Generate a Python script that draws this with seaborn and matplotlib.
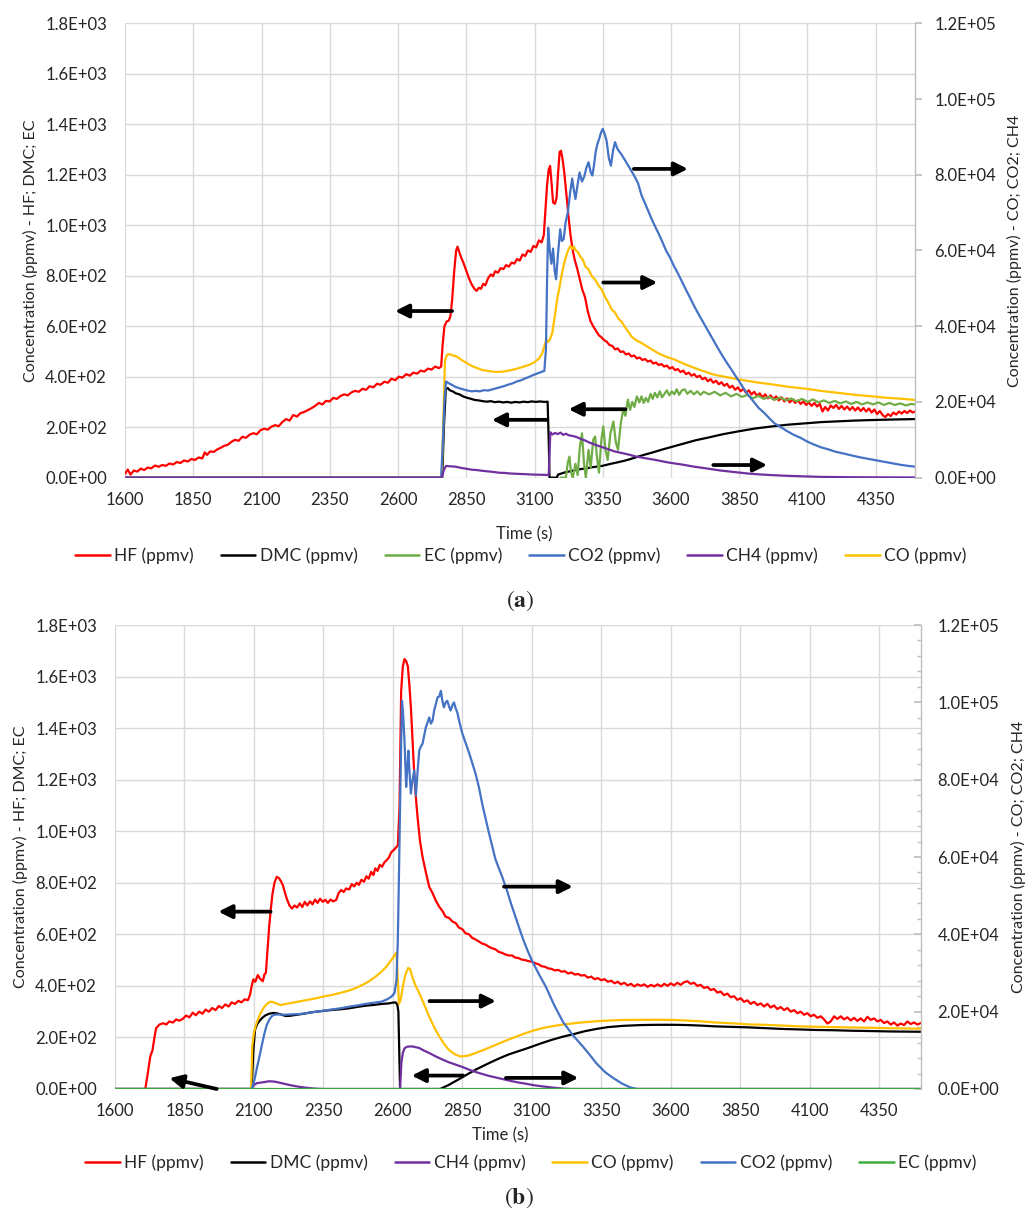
import matplotlib
matplotlib.use("Agg")
import matplotlib.pyplot as plt
import pandas as pd
import seaborn as sns
from matplotlib.ticker import FuncFormatter, FixedLocator
from matplotlib.lines import Line2D

# ---------------------------------------------------------------
# Gas concentrations (time s, ppmv) -- test (a)
# ---------------------------------------------------------------
hf_a = [(1600, 15), (1610, 32), (1620, 12), (1632, 28), (1645, 24), (1658, 36), (1670, 30), (1683, 40),
        (1696, 37), (1710, 48), (1723, 43), (1736, 50), (1750, 47), (1763, 56), (1776, 52), (1790, 62),
        (1803, 58), (1816, 68), (1830, 64), (1843, 74), (1856, 70), (1870, 80), (1883, 76), (1892, 100),
        (1900, 90), (1912, 104), (1925, 102), (1938, 112), (1950, 118), (1963, 126), (1976, 130), (1990, 142),
        (2003, 150), (2016, 146), (2030, 162), (2043, 158), (2056, 170), (2070, 176), (2083, 172), (2096, 188),
        (2110, 194), (2123, 190), (2136, 202), (2150, 208), (2163, 204), (2176, 220), (2190, 232), (2203, 226),
        (2216, 248), (2230, 242), (2243, 256), (2256, 260), (2270, 268), (2283, 275), (2296, 284), (2310, 296),
        (2323, 290), (2336, 304), (2350, 302), (2363, 316), (2376, 312), (2390, 324), (2403, 330), (2416, 326),
        (2430, 338), (2443, 344), (2456, 340), (2470, 352), (2483, 348), (2496, 362), (2510, 358), (2523, 372),
        (2536, 368), (2550, 380), (2563, 376), (2576, 392), (2590, 386), (2603, 400), (2616, 396), (2630, 410),
        (2643, 404), (2656, 416), (2670, 412), (2683, 424), (2696, 420), (2710, 432), (2723, 428), (2736, 440),
        (2750, 434), (2758, 440), (2763, 520), (2770, 600), (2778, 618), (2786, 622), (2792, 640), (2798, 700),
        (2806, 820), (2813, 900), (2818, 915), (2824, 895), (2832, 870), (2840, 850), (2850, 820), (2860, 790),
        (2870, 765), (2880, 748), (2888, 740), (2896, 752), (2904, 748), (2912, 768), (2920, 762), (2930, 790),
        (2940, 805), (2948, 798), (2956, 818), (2966, 812), (2976, 830), (2986, 826), (2996, 842), (3006, 836),
        (3016, 852), (3026, 848), (3036, 866), (3046, 860), (3056, 884), (3066, 878), (3076, 900), (3086, 894),
        (3096, 918), (3106, 912), (3116, 940), (3126, 932), (3134, 960), (3140, 1060), (3146, 1160), (3152, 1220),
        (3157, 1235), (3163, 1160), (3168, 1090), (3175, 1085), (3181, 1110), (3186, 1200), (3192, 1290),
        (3197, 1295), (3203, 1260), (3210, 1200), (3217, 1120), (3224, 1040), (3232, 960), (3240, 900),
        (3248, 860), (3256, 830), (3265, 790), (3275, 745), (3285, 715), (3295, 660), (3305, 620), (3315, 600),
        (3325, 582), (3335, 565), (3345, 556), (3355, 545), (3365, 538), (3375, 525), (3385, 522), (3395, 508),
        (3405, 512), (3415, 498), (3425, 500), (3435, 488), (3445, 492), (3455, 480), (3465, 484), (3475, 472),
        (3485, 476), (3495, 466), (3505, 470), (3515, 460), (3525, 464), (3535, 452), (3545, 456), (3555, 446),
        (3565, 450), (3575, 440), (3585, 444), (3595, 432), (3605, 438), (3615, 426), (3625, 430), (3635, 418),
        (3645, 424), (3655, 410), (3665, 416), (3675, 404), (3685, 410), (3695, 398), (3705, 404), (3715, 390),
        (3725, 396), (3735, 382), (3745, 390), (3755, 376), (3765, 384), (3775, 370), (3785, 378), (3795, 364),
        (3805, 372), (3815, 356), (3825, 364), (3835, 348), (3845, 358), (3855, 342), (3865, 352), (3875, 336),
        (3885, 346), (3895, 330), (3905, 340), (3915, 324), (3925, 334), (3935, 318), (3945, 330), (3955, 314),
        (3965, 326), (3975, 310), (3985, 322), (3995, 306), (4005, 318), (4015, 302), (4025, 314), (4035, 298),
        (4045, 310), (4055, 296), (4065, 306), (4075, 292), (4085, 302), (4095, 288), (4105, 298), (4115, 284),
        (4125, 296), (4135, 282), (4145, 292), (4155, 262), (4165, 280), (4175, 266), (4185, 286), (4195, 276),
        (4205, 288), (4215, 272), (4225, 284), (4235, 270), (4245, 282), (4255, 268), (4265, 280), (4275, 266),
        (4285, 278), (4295, 264), (4305, 276), (4315, 262), (4325, 274), (4335, 258), (4345, 270), (4355, 252),
        (4365, 264), (4375, 248), (4385, 240), (4395, 252), (4405, 244), (4415, 258), (4425, 250), (4435, 262),
        (4445, 254), (4455, 264), (4465, 256), (4475, 266), (4485, 258), (4495, 262)]

dmc_a = [(1600, 0), (2762, 0), (2768, 200), (2775, 350), (2782, 355), (2790, 346), (2800, 342), (2812, 334),
         (2825, 330), (2838, 322), (2851, 317), (2865, 313), (2880, 308), (2895, 306), (2910, 303), (2925, 301),
         (2940, 303), (2955, 299), (2970, 301), (2985, 298), (3000, 300), (3015, 297), (3030, 300), (3045, 298),
         (3060, 301), (3075, 299), (3090, 302), (3105, 300), (3120, 302), (3135, 300), (3148, 301), (3152, 150),
         (3155, 0), (3182, 0), (3186, 12), (3200, 17), (3215, 22), (3230, 25), (3250, 30), (3270, 34), (3290, 37),
         (3310, 41), (3330, 44), (3350, 47), (3380, 55), (3410, 62), (3440, 70), (3470, 80), (3500, 90), (3530, 99),
         (3570, 112), (3610, 124), (3650, 136), (3690, 148), (3733, 158), (3790, 172), (3850, 184), (3910, 195),
         (3970, 203), (4030, 210), (4090, 215), (4150, 220), (4210, 223), (4270, 226), (4330, 228), (4400, 230),
         (4495, 232)]

ec_a = [(3195, 0), (3215, 0), (3222, 60), (3228, 83), (3234, 20), (3240, 0), (3250, 55), (3258, 10), (3266, 120),
        (3274, 176), (3281, 60), (3288, 0), (3298, 110), (3306, 40), (3315, 150), (3322, 163), (3329, 80),
        (3336, 20), (3345, 150), (3352, 203), (3360, 110), (3368, 70), (3378, 175), (3389, 222), (3398, 140),
        (3406, 110), (3416, 215), (3425, 269), (3433, 245), (3442, 309), (3450, 268), (3458, 300), (3466, 280),
        (3475, 322), (3484, 298), (3492, 322), (3500, 296), (3508, 316), (3516, 300), (3525, 332), (3533, 312),
        (3541, 336), (3550, 318), (3559, 342), (3567, 318), (3576, 332), (3585, 346), (3594, 326), (3603, 342),
        (3612, 330), (3621, 350), (3630, 328), (3640, 346), (3650, 350), (3660, 332), (3672, 344), (3684, 330),
        (3696, 342), (3708, 328), (3720, 340), (3740, 330), (3760, 340), (3780, 326), (3800, 336), (3820, 322),
        (3840, 332), (3860, 320), (3880, 328), (3900, 314), (3920, 324), (3940, 312), (3960, 320), (3980, 308),
        (4000, 318), (4020, 306), (4040, 314), (4060, 302), (4080, 312), (4100, 300), (4120, 310), (4140, 298),
        (4160, 306), (4180, 296), (4200, 304), (4220, 294), (4240, 302), (4260, 292), (4280, 300), (4300, 290),
        (4320, 298), (4340, 290), (4360, 298), (4380, 288), (4400, 296), (4420, 288), (4440, 294), (4460, 286),
        (4480, 292), (4495, 290)]

co2_a = [(1600, 0), (2758, 0), (2764, 9000), (2770, 20000), (2776, 25400), (2784, 25000), (2795, 24600),
         (2810, 24000), (2825, 23600), (2840, 23300), (2855, 23000), (2870, 22800), (2885, 22900), (2900, 22800),
         (2915, 23100), (2930, 23000), (2945, 23300), (2960, 23600), (2975, 23900), (2990, 24200), (3005, 24600),
         (3020, 24900), (3035, 25400), (3050, 25700), (3065, 26200), (3080, 26600), (3095, 27100), (3110, 27500),
         (3125, 27900), (3136, 28200), (3142, 34000), (3146, 52000), (3150, 66000), (3156, 60000), (3162, 56500),
         (3168, 60500), (3174, 54500), (3179, 52400), (3186, 59000), (3194, 65600), (3200, 62500), (3207, 63000),
         (3214, 67500), (3222, 70000), (3230, 75000), (3238, 79000), (3244, 76000), (3250, 73600), (3257, 77000),
         (3265, 80600), (3274, 78200), (3282, 79500), (3290, 81800), (3298, 83300), (3306, 80600), (3312, 79800),
         (3318, 82500), (3324, 86000), (3330, 88000), (3337, 89500), (3344, 91200), (3350, 92100), (3357, 90800),
         (3364, 89000), (3372, 84500), (3380, 82400), (3388, 86500), (3395, 88600), (3404, 86800), (3412, 86000),
         (3420, 85200), (3430, 84000), (3443, 82400), (3455, 81000), (3467, 79500), (3479, 77800), (3492, 74600),
         (3505, 72400), (3518, 70200), (3531, 68000), (3544, 66000), (3557, 64100), (3570, 62000), (3583, 59800),
         (3596, 58200), (3610, 56000), (3625, 54000), (3640, 51800), (3655, 49600), (3670, 47500), (3685, 45300),
         (3700, 43300), (3715, 41400), (3730, 39500), (3745, 37600), (3760, 35700), (3775, 33800), (3790, 32000),
         (3805, 30300), (3820, 28700), (3835, 27000), (3850, 25400), (3865, 23700), (3880, 22100), (3900, 20300),
         (3920, 18500), (3940, 17200), (3960, 15700), (3980, 14300), (4000, 13400), (4025, 12300), (4050, 11300),
         (4075, 10500), (4100, 9500), (4125, 8700), (4150, 8000), (4175, 7500), (4200, 6900), (4230, 6400),
         (4260, 5900), (4290, 5400), (4320, 5000), (4350, 4600), (4380, 4200), (4410, 3800), (4440, 3400),
         (4470, 3100), (4495, 2900)]

ch4_a = [(1600, 0), (2760, 0), (2768, 2000), (2776, 3100), (2790, 3000), (2810, 2900), (2830, 2600), (2850, 2350),
         (2870, 2100), (2890, 2000), (2910, 1800), (2930, 1650), (2950, 1500), (2970, 1300), (2990, 1250),
         (3010, 1100), (3040, 1000), (3070, 900), (3100, 800), (3130, 750), (3148, 700), (3152, 700), (3155, 6000),
         (3158, 12000), (3165, 11400), (3175, 11800), (3185, 11500), (3195, 11900), (3205, 11300), (3215, 11600),
         (3225, 11200), (3240, 11000), (3255, 10700), (3270, 10200), (3286, 9800), (3300, 9300), (3322, 8700),
         (3346, 8100), (3370, 7500), (3395, 6900), (3420, 6500), (3445, 6100), (3470, 5600), (3500, 5200),
         (3542, 4700), (3590, 4000), (3637, 3500), (3685, 2900), (3733, 2400), (3780, 1900), (3829, 1500),
         (3880, 1100), (3925, 850), (3975, 650), (4020, 500), (4080, 350), (4152, 200), (4250, 120), (4350, 80),
         (4495, 50)]

co_a = [(1600, 0), (2760, 0), (2766, 15000), (2772, 31000), (2780, 32500), (2790, 32600), (2800, 32300),
        (2815, 32000), (2830, 31200), (2851, 30300), (2870, 29500), (2887, 29000), (2910, 28400), (2936, 28100),
        (2960, 27900), (2984, 28000), (3008, 28300), (3032, 28700), (3055, 29200), (3081, 29800), (3100, 30500),
        (3117, 31500), (3128, 32800), (3136, 34700), (3143, 36500), (3150, 35800), (3158, 36800), (3165, 38200),
        (3174, 42500), (3183, 47100), (3192, 50500), (3201, 54100), (3210, 57000), (3220, 59400), (3226, 60500),
        (3232, 61200), (3238, 60400), (3244, 61000), (3250, 60100), (3259, 59600), (3268, 58300), (3277, 57600),
        (3286, 55800), (3298, 55000), (3310, 53200), (3322, 52300), (3334, 50800), (3346, 49700), (3358, 47800),
        (3370, 46300), (3383, 44400), (3395, 43600), (3407, 42000), (3419, 41200), (3431, 39800), (3443, 38600),
        (3455, 37300), (3470, 36400), (3491, 35600), (3520, 34300), (3552, 32900), (3580, 32000), (3612, 31200),
        (3650, 30000), (3685, 29000), (3720, 28100), (3757, 27200), (3800, 26600), (3853, 25900), (3910, 25200),
        (3973, 24600), (4030, 24000), (4092, 23500), (4150, 22900), (4212, 22400), (4270, 21900), (4332, 21500),
        (4390, 21100), (4452, 20800), (4495, 20500)]

# ---------------------------------------------------------------
# Gas concentrations (time s, ppmv) -- test (b)
# ---------------------------------------------------------------
hf_b = [(1709, 0), (1718, 60), (1727, 126), (1735, 150), (1742, 200), (1748, 236), (1760, 250), (1774, 255),
        (1785, 250), (1795, 262), (1809, 258), (1820, 270), (1832, 265), (1844, 272), (1856, 285), (1868, 278),
        (1880, 296), (1891, 286), (1903, 300), (1915, 292), (1926, 308), (1938, 300), (1950, 314), (1962, 306),
        (1974, 322), (1985, 314), (1997, 328), (2009, 320), (2020, 336), (2032, 330), (2044, 342), (2055, 336),
        (2067, 348), (2078, 344), (2086, 365), (2092, 400), (2098, 425), (2105, 416), (2114, 442), (2122, 428),
        (2132, 418), (2138, 445), (2143, 450), (2149, 540), (2155, 630), (2161, 700), (2167, 758), (2174, 800),
        (2182, 823), (2190, 818), (2198, 805), (2205, 788), (2212, 760), (2220, 733), (2228, 712), (2237, 700),
        (2246, 712), (2255, 704), (2265, 720), (2274, 706), (2283, 726), (2292, 712), (2302, 728), (2311, 716),
        (2320, 735), (2329, 722), (2338, 738), (2348, 726), (2357, 734), (2366, 722), (2376, 735), (2385, 728),
        (2396, 733), (2405, 760), (2414, 772), (2423, 764), (2432, 778), (2443, 774), (2452, 795), (2461, 786),
        (2470, 800), (2478, 792), (2487, 812), (2496, 804), (2505, 825), (2513, 816), (2522, 842), (2530, 830),
        (2537, 856), (2545, 846), (2553, 870), (2561, 862), (2570, 880), (2578, 888), (2586, 898), (2594, 918),
        (2604, 928), (2612, 938), (2618, 945), (2624, 1094), (2630, 1545), (2636, 1640), (2642, 1668),
        (2648, 1660), (2654, 1640), (2660, 1560), (2665, 1481), (2671, 1350), (2677, 1223), (2683, 1130),
        (2689, 1055), (2698, 960), (2707, 900), (2719, 840), (2731, 784), (2743, 760), (2755, 730), (2767, 707),
        (2779, 690), (2790, 668), (2802, 664), (2814, 650), (2826, 644), (2838, 626), (2850, 620), (2862, 604),
        (2874, 600), (2886, 586), (2898, 580), (2910, 572), (2922, 564), (2934, 560), (2945, 552), (2957, 546),
        (2969, 542), (2981, 532), (2993, 528), (3005, 522), (3017, 518), (3030, 518), (3040, 510), (3052, 508),
        (3064, 502), (3076, 500), (3088, 496), (3100, 494), (3112, 488), (3124, 484), (3136, 476), (3148, 474),
        (3159, 468), (3171, 466), (3183, 460), (3195, 462), (3207, 455), (3219, 457), (3231, 448), (3243, 452),
        (3255, 444), (3267, 446), (3278, 440), (3290, 442), (3302, 432), (3314, 436), (3326, 426), (3338, 430),
        (3350, 422), (3362, 426), (3374, 416), (3386, 420), (3398, 410), (3410, 416), (3421, 406), (3433, 412),
        (3445, 402), (3457, 408), (3469, 398), (3481, 406), (3493, 400), (3505, 406), (3517, 396), (3529, 404),
        (3541, 398), (3553, 406), (3565, 398), (3577, 408), (3589, 400), (3600, 410), (3612, 402), (3624, 412),
        (3636, 404), (3648, 414), (3660, 418), (3672, 408), (3684, 412), (3696, 400), (3708, 404), (3720, 392),
        (3732, 396), (3744, 384), (3756, 388), (3768, 374), (3780, 378), (3792, 364), (3804, 370), (3816, 356),
        (3828, 360), (3840, 346), (3852, 352), (3864, 338), (3876, 344), (3888, 330), (3900, 338), (3912, 326),
        (3924, 332), (3936, 320), (3948, 330), (3960, 316), (3972, 324), (3984, 310), (3996, 318), (4008, 306),
        (4020, 314), (4032, 300), (4044, 306), (4056, 294), (4068, 300), (4080, 288), (4092, 294), (4104, 282),
        (4116, 288), (4128, 276), (4140, 282), (4152, 270), (4164, 254), (4176, 262), (4188, 282), (4200, 272),
        (4212, 282), (4224, 270), (4236, 278), (4248, 266), (4260, 276), (4272, 264), (4284, 274), (4296, 262),
        (4308, 280), (4320, 268), (4332, 274), (4344, 262), (4356, 268), (4368, 256), (4380, 262), (4392, 250),
        (4404, 258), (4416, 246), (4428, 254), (4440, 248), (4452, 262), (4464, 252), (4476, 258), (4488, 250),
        (4500, 256)]

dmc_b = [(1600, 0), (2092, 0), (2098, 150), (2104, 230), (2112, 252), (2120, 264), (2130, 276), (2142, 286),
         (2155, 292), (2170, 295), (2185, 293), (2200, 288), (2215, 283), (2230, 284), (2255, 288), (2280, 292),
         (2305, 297), (2325, 300), (2350, 303), (2384, 307), (2410, 309), (2443, 313), (2470, 318), (2501, 323),
         (2530, 326), (2560, 330), (2585, 332), (2600, 335), (2610, 336), (2616, 328), (2620, 300), (2623, 150),
         (2626, 0), (2770, 0), (2800, 15), (2838, 38), (2870, 58), (2898, 75), (2930, 92), (2957, 106),
         (2990, 122), (3017, 134), (3050, 146), (3076, 155), (3105, 166), (3136, 178), (3170, 190), (3212, 203),
         (3248, 212), (3290, 224), (3333, 233), (3374, 240), (3430, 245), (3493, 248), (3550, 249), (3612, 249),
         (3660, 248), (3707, 246), (3760, 243), (3819, 241), (3880, 239), (3941, 236), (4000, 233), (4062, 231),
         (4120, 229), (4184, 228), (4250, 226), (4305, 225), (4400, 223), (4500, 222)]

ch4_b = [(1600, 0), (2092, 0), (2100, 1000), (2110, 1500), (2130, 1700), (2155, 2000), (2175, 1900),
         (2200, 1500), (2230, 1000), (2260, 600), (2290, 300), (2320, 100), (2350, 0), (2626, 0), (2631, 7000),
         (2636, 9300), (2642, 10500), (2650, 10900), (2660, 11000), (2671, 11000), (2683, 10800), (2695, 10600),
         (2710, 10000), (2731, 9300), (2755, 8400), (2779, 7600), (2802, 6900), (2826, 6300), (2850, 5700),
         (2874, 5000), (2898, 4400), (2921, 3900), (2945, 3400), (2969, 3000), (2993, 2600), (3017, 2200),
         (3050, 1700), (3076, 1400), (3105, 1000), (3136, 700), (3170, 400), (3212, 100), (3240, 0), (4500, 0)]

co_b = [(1600, 0), (2090, 0), (2094, 11000), (2100, 14500), (2107, 16500), (2114, 17900), (2125, 19800),
        (2138, 21300), (2150, 22200), (2161, 22600), (2175, 22300), (2196, 21700), (2215, 22000), (2231, 22200),
        (2260, 22600), (2290, 23000), (2320, 23400), (2349, 23900), (2380, 24300), (2408, 24800), (2440, 25400),
        (2466, 26100), (2490, 26900), (2513, 27800), (2537, 29000), (2560, 30400), (2575, 31500), (2590, 32900),
        (2603, 34200), (2613, 35300), (2617, 30000), (2622, 22000), (2628, 23000), (2636, 26500), (2645, 29500),
        (2655, 31300), (2662, 31000), (2670, 29000), (2680, 27000), (2695, 24800), (2712, 22000), (2731, 18700),
        (2750, 15800), (2767, 13600), (2785, 11600), (2802, 10100), (2822, 9000), (2844, 8400), (2870, 8600),
        (2898, 9300), (2930, 10200), (2957, 11000), (2990, 12000), (3017, 12800), (3050, 13700), (3076, 14400),
        (3105, 15100), (3136, 15700), (3170, 16200), (3207, 16600), (3240, 16900), (3278, 17200), (3330, 17500),
        (3374, 17700), (3430, 17850), (3493, 17900), (3560, 17900), (3612, 17850), (3660, 17700), (3707, 17500),
        (3760, 17200), (3819, 17000), (3880, 16700), (3941, 16600), (4001, 16400), (4062, 16200), (4123, 16100),
        (4184, 16000), (4250, 15900), (4305, 15850), (4400, 15700), (4500, 15600)]

co2_b = [(1600, 0), (2092, 0), (2102, 2400), (2111, 5500), (2120, 8400), (2129, 11500), (2138, 14400),
         (2146, 16500), (2155, 17900), (2164, 18800), (2173, 19200), (2190, 19300), (2208, 19200), (2237, 19300),
         (2267, 19400), (2296, 19700), (2325, 20000), (2355, 20300), (2384, 20600), (2414, 20900), (2443, 21300),
         (2472, 21600), (2501, 22000), (2530, 22300), (2560, 22600), (2580, 23200), (2595, 23900), (2606, 24800),
         (2613, 28000), (2618, 38500), (2622, 55000), (2626, 72900), (2630, 90000), (2633, 100400), (2637, 97000),
         (2642, 90100), (2648, 78100), (2652, 83000), (2656, 87500), (2660, 82000), (2665, 76400), (2671, 80000),
         (2677, 82400), (2683, 75900), (2689, 82000), (2695, 87500), (2701, 88600), (2707, 89300), (2713, 91500),
         (2719, 93600), (2725, 94800), (2731, 96100), (2737, 94500), (2743, 95300), (2749, 98000), (2755, 99600),
         (2761, 101300), (2767, 101500), (2773, 103000), (2778, 100500), (2784, 98700), (2790, 100000),
         (2796, 100400), (2802, 99000), (2808, 97900), (2814, 99200), (2820, 100000), (2826, 98500), (2832, 97400),
         (2841, 94500), (2850, 92000), (2862, 89500), (2874, 87000), (2886, 84300), (2898, 81500), (2910, 78000),
         (2921, 74000), (2933, 70200), (2945, 66500), (2957, 63000), (2969, 59500), (2981, 57200), (2993, 55000),
         (3011, 51300), (3026, 47800), (3042, 44400), (3056, 41400), (3070, 38500), (3085, 35800), (3100, 33300),
         (3125, 29800), (3151, 26400), (3180, 21800), (3212, 17400), (3248, 13900), (3285, 10900), (3310, 8700),
         (3333, 6600), (3365, 4300), (3394, 2800), (3425, 1400), (3455, 400), (3479, 0), (4500, 0)]

ec_b = [(1600, 0), (2100, 0), (2600, 0), (3100, 0), (3600, 0), (4100, 0), (4500, 0)]

# Direction arrows (tail -> head) in left-axis data units
arrows_a = [((2798, 660), (2589, 660)), ((3146, 229), (2944, 229)), ((3433, 271), (3225, 271)),
            ((3464, 1223), (3662, 1223)), ((3352, 773), (3550, 773)), ((3755, 50), (3952, 50))]
arrows_b = [((2160, 688), (1972, 688)), ((1966, 0), (1796, 42)), ((2732, 341), (2971, 341)),
            ((2853, 52), (2668, 52)), ((3007, 43), (3268, 43)), ((3000, 785), (3248, 785))]

x_ticks = [1600, 1850, 2100, 2350, 2600, 2850, 3100, 3350, 3600, 3850, 4100, 4350]
left_ticks = [0, 200, 400, 600, 800, 1000, 1200, 1400, 1600, 1800]
right_ticks = [0, 20000, 40000, 60000, 80000, 100000, 120000]

colors = {
    "HF (ppmv)": "#FF0000",
    "DMC (ppmv)": "#000000",
    "EC (ppmv)": "#70AD47",
    "CO2 (ppmv)": "#4472C4",
    "CH4 (ppmv)": "#7030A0",
    "CO (ppmv)": "#FFC000",
}

sns.set_theme(style="white")
plt.rcParams["font.family"] = ["Lato", "DejaVu Sans"]
plt.rcParams["mathtext.fontset"] = "stix"
TXT = "#262626"
TICK_FS = 12
LEG_FS = 12.5
LAB_FS = 11.5


def long_frame(series):
    rows = [(name, t, v) for name, pts in series.items() for t, v in pts]
    return pd.DataFrame(rows, columns=["series", "time", "value"])


def draw(ax, series, palette):
    sns.lineplot(data=long_frame(series), x="time", y="value", hue="series",
                 hue_order=list(series), palette=palette, estimator=None, sort=False,
                 legend=False, linewidth=1.6, ax=ax)


def sci(v, _):
    return f"{v:.1E}"


def style(ax1, ax2, xmax, minor_right):
    ax1.set_xlim(1600, xmax)
    ax1.set_ylim(0, 1800)
    ax2.set_ylim(0, 120000)
    ax1.xaxis.set_major_locator(FixedLocator(x_ticks))
    ax1.yaxis.set_major_locator(FixedLocator(left_ticks))
    ax2.yaxis.set_major_locator(FixedLocator(right_ticks))
    ax1.yaxis.set_major_formatter(FuncFormatter(sci))
    ax2.yaxis.set_major_formatter(FuncFormatter(sci))
    ax1.grid(True, color="#D9D9D9", linewidth=1.0)
    ax1.set_axisbelow(True)
    ax2.grid(False)
    for s in ax1.spines.values():
        s.set_visible(False)
    for name, s in ax2.spines.items():
        s.set_visible(name == "right")
    ax2.spines["right"].set_color("#BFBFBF")
    ax2.spines["right"].set_linewidth(1.0)
    ax1.tick_params(axis="both", length=0, labelsize=TICK_FS, labelcolor=TXT)
    ax1.tick_params(axis="y", pad=13)
    ax1.tick_params(axis="x", pad=10)
    if minor_right:
        ax2.yaxis.set_minor_locator(FixedLocator(range(0, 120001, 4000)))
        ax2.tick_params(axis="y", which="both", direction="in", color="#BFBFBF")
        ax2.tick_params(axis="y", which="major", length=5, pad=12, labelsize=TICK_FS, labelcolor=TXT)
        ax2.tick_params(axis="y", which="minor", length=3)
    else:
        ax2.tick_params(axis="y", direction="out", length=5, color="#BFBFBF", pad=9,
                        labelsize=TICK_FS, labelcolor=TXT)
    ax1.set_ylabel("Concentration (ppmv) - HF; DMC; EC", fontsize=LAB_FS, color=TXT)
    ax2.set_ylabel("Concentration (ppmv) - CO; CO2; CH4", fontsize=LAB_FS, color=TXT, rotation=90)
    ax1.set_xlabel("Time (s)", fontsize=12, color=TXT)


def arrows(ax1, ax2, items):
    for tail, head in items:
        ax2.annotate("", xy=head, xycoords=ax1.transData, xytext=tail, textcoords=ax1.transData,
                     arrowprops=dict(arrowstyle="-|>,head_length=0.8,head_width=0.4", color="black",
                                     lw=2.7, shrinkA=0, shrinkB=0, mutation_scale=10))


def legend(ax, order, palette, y, x):
    handles = [Line2D([0], [0], color=palette[n], lw=1.8) for n in order]
    ax.legend(handles, order, loc="center", bbox_to_anchor=(x, y), ncol=len(order), frameon=False,
              fontsize=LEG_FS, handlelength=2.0, handletextpad=0.25, columnspacing=1.55, labelcolor=TXT)


fig = plt.figure(figsize=(10.35, 12.12), dpi=100)
fig.patch.set_facecolor("white")

# ---------------- panel (a) ----------------
ax_a = fig.add_axes([0.1208, 0.6059, 0.7633, 0.3749])
ax_a2 = ax_a.twinx()
pal_a = dict(colors)
draw(ax_a, {"HF (ppmv)": hf_a, "DMC (ppmv)": dmc_a, "EC (ppmv)": ec_a}, pal_a)
draw(ax_a2, {"CO (ppmv)": co_a, "CO2 (ppmv)": co2_a, "CH4 (ppmv)": ch4_a}, pal_a)
style(ax_a, ax_a2, 4494, False)
ax_a.yaxis.set_label_coords(-0.110, 0.5)
ax_a2.yaxis.set_label_coords(1.1166, 0.5)
ax_a.xaxis.set_label_coords(0.505, -0.107)
arrows(ax_a, ax_a2, arrows_a)
legend(ax_a, ["HF (ppmv)", "DMC (ppmv)", "EC (ppmv)", "CO2 (ppmv)", "CH4 (ppmv)", "CO (ppmv)"],
       pal_a, -0.172, 0.501)

# ---------------- panel (b) ----------------
ax_b = fig.add_axes([0.1111, 0.1015, 0.7785, 0.3828])
ax_b2 = ax_b.twinx()
pal_b = dict(colors)
pal_b["EC (ppmv)"] = "#3DAE3D"
draw(ax_b, {"HF (ppmv)": hf_b, "DMC (ppmv)": dmc_b}, pal_b)
# EC stays at zero throughout; its baseline is drawn last so it sits on top
draw(ax_b2, {"CH4 (ppmv)": ch4_b, "CO (ppmv)": co_b, "CO2 (ppmv)": co2_b, "EC (ppmv)": ec_b}, pal_b)
style(ax_b, ax_b2, 4500, True)
ax_b.yaxis.set_label_coords(-0.108, 0.5)
ax_b2.yaxis.set_label_coords(1.1124, 0.5)
ax_b.xaxis.set_label_coords(0.478, -0.082)
arrows(ax_b, ax_b2, arrows_b)
legend(ax_b, ["HF (ppmv)", "DMC (ppmv)", "CH4 (ppmv)", "CO (ppmv)", "CO2 (ppmv)", "EC (ppmv)"],
       pal_b, -0.159, 0.516)

fig.text(520 / 1035, 1 - 601 / 1212, r"$(\mathbf{a})$", ha="center", va="center", fontsize=17)
fig.text(519 / 1035, 1 - 1198 / 1212, r"$(\mathbf{b})$", ha="center", va="center", fontsize=17)

fig.savefig("out.png", dpi=100, facecolor="white")
